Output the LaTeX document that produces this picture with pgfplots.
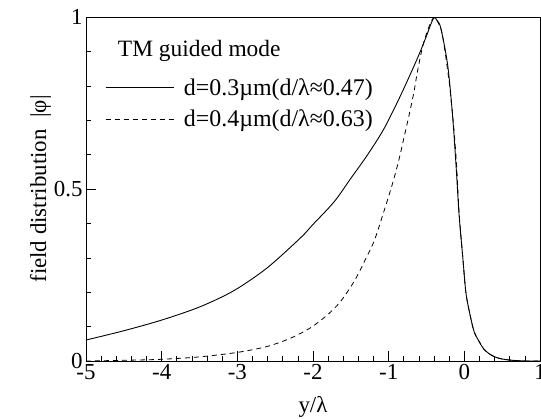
\documentclass[border=0pt]{standalone}
\usepackage{fontspec}
\setmainfont{Liberation Serif}
\usepackage{pgfplots}
\pgfplotsset{compat=1.18}

% TM guided mode field profiles
\pgfplotstableread{
x      y
-5.0   0.061
-4.5   0.088
-4.0   0.119
-3.5   0.157
-3.05  0.204
-2.61  0.270
-2.17  0.357
-2.0   0.397
-1.72  0.463
-1.50  0.531
-1.28  0.599
-1.06  0.676
-0.84  0.773
-0.62  0.880
-0.50  0.945
-0.45  0.975
-0.40  0.998
-0.36  0.990
-0.31  0.967
-0.22  0.860
-0.156 0.715
-0.11  0.570
-0.069 0.424
-0.02  0.300
0.02   0.200
0.07   0.140
0.13   0.085
0.20   0.055
0.26   0.034
0.35   0.018
0.44   0.009
0.55   0.004
0.70   0.001
0.85   0.000
1.00   0.000
}\thinfilm

\pgfplotstableread{
x      y
-5.0   0.000
-4.5   0.002
-4.0   0.005
-3.5   0.012
-3.0   0.025
-2.61  0.042
-2.30  0.066
-2.03  0.097
-1.81  0.134
-1.64  0.172
-1.46  0.230
-1.33  0.285
-1.19  0.350
-1.07  0.430
-0.95  0.515
-0.86  0.589
-0.80  0.647
-0.73  0.715
-0.665 0.783
-0.62  0.841
-0.55  0.915
-0.47  0.970
-0.40  1.000
-0.35  0.985
-0.29  0.948
-0.20  0.810
-0.135 0.667
-0.10  0.560
-0.069 0.430
-0.02  0.300
0.02   0.200
0.07   0.140
0.13   0.085
0.20   0.055
0.26   0.034
0.35   0.018
0.44   0.009
0.55   0.004
0.70   0.001
0.85   0.000
1.00   0.000
}\thickfilm

\begin{document}
\begin{tikzpicture}
\useasboundingbox (0,0) rectangle (541bp,-419bp);
\begin{axis}[at={(86bp,-361bp)},anchor=south west,
 scale only axis,width=454bp,height=344bp,
 font=\fontsize{23}{27}\selectfont,
 /pgf/number format/assume math mode=true,
 xmin=-5,xmax=1,ymin=0,ymax=1,
 xtick={-5,-4,-3,-2,-1,0,1},ytick={0,0.5,1},
 yticklabels={0,0.5,1},
 minor x tick num=4,minor y tick num=4,
 tick align=inside,tick pos=left,
 major tick length=10bp,minor tick length=5bp,
 every tick/.style={black,line width=0.6bp},
 axis line style={line width=0.8bp},
 xlabel={y/λ},ylabel={field distribution\ \ |φ|},
 xlabel style={yshift=-10bp},ylabel style={yshift=-4bp},
 legend style={at={(axis description cs:0.035,0.83)},anchor=north west,
  draw=none,fill=none,row sep=11bp,
  font=\fontsize{24}{28}\selectfont,
  nodes={inner sep=1bp,anchor=west},
  /tikz/every odd column/.append style={column sep=9bp}},
 legend cell align=left,
 legend image code/.code={\draw[#1] (0bp,0bp) -- (68bp,0bp);}]
\addplot[black,line width=0.9bp,smooth,tension=0.5] table {\thinfilm};
\addplot[black,line width=0.8bp,smooth,tension=0.5,dash pattern=on 5bp off 4bp] table {\thickfilm};
\node[anchor=west,inner sep=0,font=\fontsize{23.5}{28}\selectfont]
 at (axis description cs:0.07,0.90) {TM guided mode};
\legend{d=0.3µm(d/λ≈0.47),d=0.4µm(d/λ≈0.63)}
\end{axis}
\end{tikzpicture}
\end{document}
